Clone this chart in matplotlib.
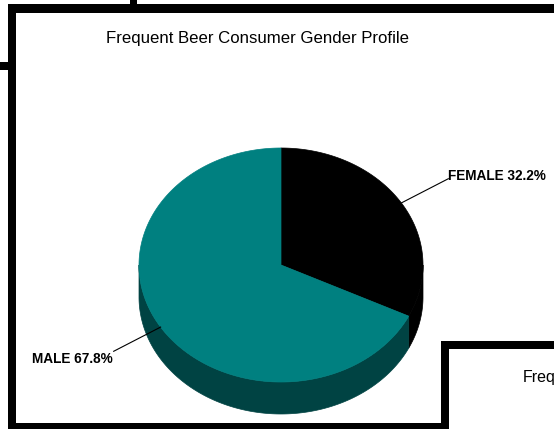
import matplotlib.pyplot as plt
import numpy as np
from matplotlib.patches import Polygon, Rectangle

# data
labels = ['FEMALE', 'MALE']
shares = [32.2, 67.8]
top_colors = ['#000000', '#008080']
side_colors = ['#000000', '#004343']
title = 'Frequent Beer Consumer Gender Profile'

# pie geometry in pixels (y axis pointing down)
cx, cy = 281, 265
rx, ry = 142, 117
depth = 32


def rim(theta_deg, dy=0.0, scale=1.0):
    t = np.radians(theta_deg)
    return np.column_stack([cx + scale * rx * np.cos(t), cy - scale * ry * np.sin(t) + dy])


fig = plt.figure(figsize=(5.54, 4.29), dpi=100)
ax = fig.add_axes([0, 0, 1, 1])
ax.set_xlim(0, 554)
ax.set_ylim(429, 0)
ax.axis('off')

# frames
k = 'black'
ax.add_patch(Rectangle((8, 4), 600, 9, color=k, lw=0))
ax.add_patch(Rectangle((8, 4), 8, 430, color=k, lw=0))
ax.add_patch(Rectangle((8, 423), 600, 10, color=k, lw=0))
ax.add_patch(Rectangle((130, -5), 7, 10, color=k, lw=0))
ax.add_patch(Rectangle((-5, 62), 13, 8, color=k, lw=0))
ax.add_patch(Rectangle((441, 341), 200, 100, facecolor='white', lw=0, zorder=5))
ax.add_patch(Rectangle((441, 341), 200, 8, color=k, lw=0, zorder=6))
ax.add_patch(Rectangle((441, 341), 8, 100, color=k, lw=0, zorder=6))
# neighbouring panel's title, cut off by the picture edge as in the source
ax.text(523, 382, 'Frequent', fontsize=11.5,
        family='Liberation Sans', va='baseline', ha='left', zorder=7, clip_on=True)

ax.text(258, 43, title, fontsize=12.1, family='Liberation Sans', ha='center', va='baseline')

# slice angles: start at 12 o'clock, clockwise
fracs = np.array(shares) / sum(shares)
ends = 90 - 360 * np.cumsum(fracs)
starts = np.concatenate([[90], ends[:-1]])

# sides (front half only: angles between -180 and 0)
for s, e, col in zip(starts, ends, side_colors):
    lo, hi = max(e, -180), min(s, 0)
    if lo >= hi:
        continue
    th = np.linspace(hi, lo, 200)
    pts = np.vstack([rim(th), rim(th[::-1], dy=depth)])
    ax.add_patch(Polygon(pts, closed=True, facecolor=col, edgecolor=col, lw=0.5, zorder=2))

# top faces
for s, e, col in zip(starts, ends, top_colors):
    th = np.linspace(s, e, 300)
    pts = np.vstack([[cx, cy], rim(th)])
    ax.add_patch(Polygon(pts, closed=True, facecolor=col, edgecolor=col, lw=0.5, zorder=3))

# labels with leader lines
for lab, v, s, e in zip(labels, shares, starts, ends):
    mid = (s + e) / 2
    p0 = rim([mid])[0]
    p1 = rim([mid], scale=1.39)[0]
    ax.plot([p0[0], p1[0]], [p0[1], p1[1]], color='black', lw=0.8, zorder=4)
    txt = f'{lab} {v:.1f}%'
    if np.cos(np.radians(mid)) >= 0:
        ax.text(p1[0], p1[1] + 1, txt, fontsize=9.8, weight='bold', family='Liberation Sans',
                ha='left', va='baseline')
    else:
        ax.text(p1[0] - 1, p1[1] + 1, txt, fontsize=9.8, weight='bold', family='Liberation Sans',
                ha='right', va='top')

fig.savefig('out.png', dpi=100)
